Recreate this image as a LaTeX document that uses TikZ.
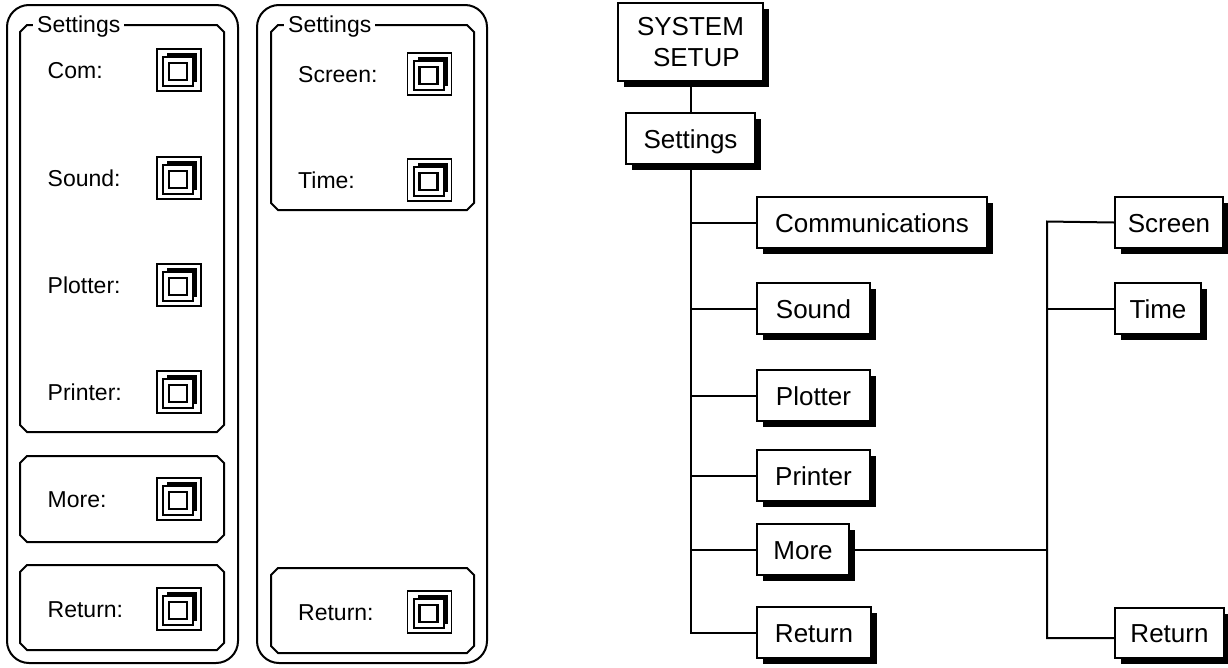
\documentclass[tikz,border=0pt]{standalone}
\usepackage{fontspec}
\setmainfont{Liberation Sans}
\usetikzlibrary{shadows}
\tikzset{
  ln/.style={line width=2pt},
  conn/.style={line width=2pt},
  tboxbase/.style={draw, line width=2pt, fill=white, font=\fontsize{26}{31}\selectfont,
    inner sep=0pt, anchor=north west,
    drop shadow={shadow xshift=6pt, shadow yshift=-6pt, fill=black, opacity=1}},
  tbox/.style={tboxbase, text height=19pt, text depth=0pt, minimum height=51pt},
  plabel/.style={font=\fontsize{23}{27}\selectfont, inner sep=0pt, anchor=base west},
  grouplabel/.style={font=\fontsize{23}{27}\selectfont, fill=white, inner xsep=4pt, inner ysep=2pt, anchor=base west},
}
\newcommand\chamf[4]{\draw[ln] ({#1+7},{#2}) -- ({#3-7},{#2}) -- ({#3},{#2+7}) -- ({#3},{#4-7}) -- ({#3-7},{#4}) -- ({#1+7},{#4}) -- ({#1},{#4-7}) -- ({#1},{#2+7}) -- cycle;}
\newcommand\ckb[2]{%
  \begin{scope}[shift={(#1,#2)}]
    \draw[line width=1.5pt, fill=white] (-22,-21) rectangle (22,21);
    \fill[black] (-12,-17) rectangle (18,12);
    \draw[line width=2pt, fill=white] (-16,-13) rectangle (14,16);
    \draw[line width=2.5pt] (-10,-7) rectangle (8,10);
  \end{scope}}
\begin{document}
\begin{tikzpicture}[x=1pt,y=-1pt]
\useasboundingbox (0,0) rectangle (1228,667);

% ---------- Panel A ----------
\draw[ln, rounded corners=22pt] (7,5) rectangle (238,663);
\chamf{20}{25}{224}{432}
\node[grouplabel] (gA) at (33,32) {Settings};
\chamf{20}{456}{224}{542}
\chamf{20}{565}{224}{650}
\node[plabel] (lcom) at (47.5,78) {Com:};
\node[plabel] (lsound) at (47.5,186) {Sound:};
\node[plabel] (lplot) at (47.5,293) {Plotter:};
\node[plabel] (lprint) at (47.5,400) {Printer:};
\node[plabel] (lmore) at (47.5,507) {More:};
\node[plabel] (lret) at (47.5,617) {Return:};
\ckb{179}{70}
\ckb{179}{178}
\ckb{179}{285}
\ckb{179}{392}
\ckb{179}{499}
\ckb{179}{609}

% ---------- Panel B ----------
\draw[ln, rounded corners=22pt] (257,5) rectangle (487,663);
\chamf{271}{25}{474}{210}
\node[grouplabel] (gB) at (284,32) {Settings};
\chamf{271}{568}{474}{653}
\node[plabel] (lscreen) at (298,82) {Screen:};
\node[plabel] (ltime) at (298,188) {Time:};
\node[plabel] (lret2) at (298,620) {Return:};
\ckb{429.5}{74}
\ckb{429.5}{180}
\ckb{429.5}{612}

% ---------- Tree ----------
\node[tboxbase, minimum width=145pt, minimum height=78pt, align=left] (sys) at (617,2) {SYSTEM\\\hspace*{16pt}SETUP};
\node[tbox, minimum width=129pt] (tset) at (625,112) {Settings};
\node[tbox, minimum width=230pt] (tcom) at (756,196) {Communications};
\node[tbox, minimum width=113pt] (tsound) at (756,282) {Sound};
\node[tbox, minimum width=113pt] (tplot) at (756,369) {Plotter};
\node[tbox, minimum width=113pt] (tprint) at (756,449) {Printer};
\node[tbox, minimum width=92pt] (tmore) at (756,523) {More};
\node[tbox, minimum width=114pt] (tret) at (756,606) {Return};
\node[tbox, minimum width=108pt] (tscr) at (1114,196) {Screen};
\node[tbox, minimum width=86pt] (ttime) at (1114,282) {Time};
\node[tbox, minimum width=109pt, minimum height=50pt] (tret2) at (1114,607) {Return};

\draw[conn] (sys.south) -- (tset.north);
\draw[conn] (tset.south) |- (tret.west);
\draw[conn] (tset.south |- tcom.west) -- (tcom.west);
\draw[conn] (tset.south |- tsound.west) -- (tsound.west);
\draw[conn] (tset.south |- tplot.west) -- (tplot.west);
\draw[conn] (tset.south |- tprint.west) -- (tprint.west);
\draw[conn] (tset.south |- tmore.west) -- (tmore.west);

\coordinate (r2top) at (1047,221.5);
\coordinate (r2bot) at (1047,638);
\draw[conn] (tscr.west) -- (r2top) -- (r2bot) -- (tret2.west |- r2bot);
\draw[conn] (r2top |- ttime.west) -- (ttime.west);
\draw[conn] (tmore.east) -- (r2top |- tmore.east);
\end{tikzpicture}
\end{document}
